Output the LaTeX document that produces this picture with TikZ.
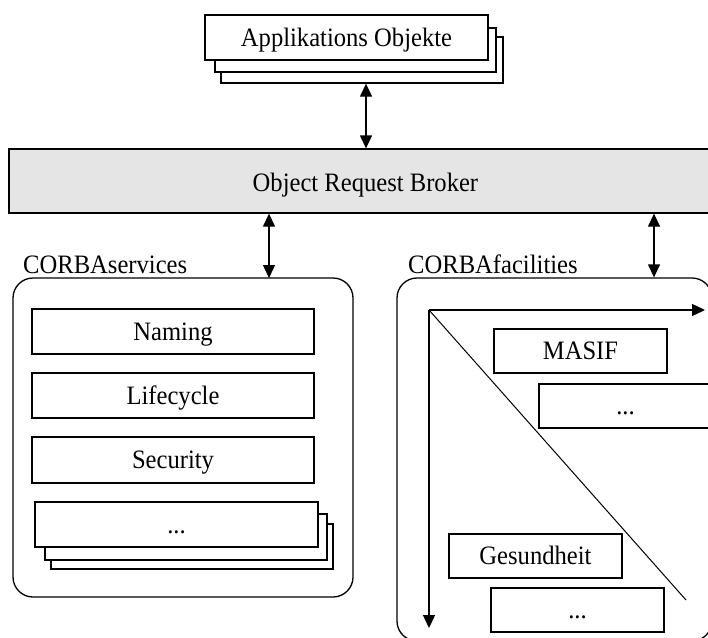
\documentclass[tikz,border=0pt]{standalone}
\usepackage{fontspec}
\setmainfont{Liberation Serif}
\usetikzlibrary{arrows.meta}
% labels are set slightly taller than wide
\newcommand\tx[1]{\scalebox{1}[1.08]{#1}}
\begin{document}
\begin{tikzpicture}[x=1pt,y=-1pt,
  box/.style={draw, fill=white, line width=1.3pt, inner sep=0pt,
    text height=20pt, text depth=3pt,
    font=\fontsize{24.6}{29}\selectfont},
  panel/.style={draw, line width=1.3pt, rounded corners=20pt},
  lbl/.style={inner sep=0pt, anchor=base west, font=\fontsize{24.6}{29}\selectfont},
  tip/.style={line width=1.3pt, -{Triangle[length=13pt,width=12pt]}},
  dbl/.style={line width=1.3pt, {Triangle[length=13pt,width=12pt]}-{Triangle[length=13pt,width=12pt]}},
]
\useasboundingbox (0,0) rectangle (708,637);

% application objects (stacked)
\node[box, minimum width=282pt, minimum height=46pt] (app3) at (362,60) {};
\node[box, minimum width=281pt, minimum height=44pt] (app2) at (355.5,50) {};
\node[box, minimum width=283pt, minimum height=45pt] (app) at (346.5,37.5) {\tx{Applikations Objekte}};

% object request broker
\node[box, fill=black!10, minimum width=703pt, minimum height=64pt] (orb) at (360.5,181) {};
\node[lbl] (orbtext) at (252.5,191) {\tx{Object Request Broker}};

% panels
\draw[panel] (13,278) rectangle (353,597);
\node[panel, minimum width=315pt, minimum height=363pt, inner sep=0pt] (fac) at (554.5,459.5) {};
\coordinate (srvtl) at (13,278);
\node[lbl] (srvlbl) at (23,273) {\tx{CORBAservices}};
\node[lbl] (faclbl) at (408,273) {\tx{CORBAfacilities}};

% services
\node[box, minimum width=282pt, minimum height=45pt] (naming) at (173,331.5) {\tx{Naming}};
\node[box, minimum width=282pt, minimum height=45pt] (life) at (173,395.5) {\tx{Lifecycle}};
\node[box, minimum width=282pt, minimum height=46pt] (sec) at (173,460) {\tx{Security}};
\node[box, minimum width=282pt, minimum height=45pt] (more3) at (192,546.5) {};
\node[box, minimum width=282pt, minimum height=46pt] (more2) at (186,537) {};
\node[box, minimum width=283pt, minimum height=45pt] (more) at (176.5,524.5) {\tx{...}};

% facilities
\coordinate (org) at (429,310);
\coordinate (hx) at (705,310);
\coordinate (vy) at (429,628);
\coordinate (dg) at (686,600);
\node[box, minimum width=173pt, minimum height=44pt] (masif) at (580.5,351) {\tx{MASIF}};
\node[box, minimum width=173pt, minimum height=44pt] (hmore) at (625.5,406) {\tx{...}};
\node[box, minimum width=173pt, minimum height=44pt] (ges) at (535.5,556) {\tx{Gesundheit}};
\node[box, minimum width=173pt, minimum height=44pt] (vmore) at (577.5,610) {\tx{...}};
\draw[tip] (org) -- (hx);
\draw[tip] (org) -- (vy);
\draw[line width=1pt] (org) -- (dg);

% connectors
\coordinate (c1) at (366,0);
\coordinate (c2) at (269,0);
\coordinate (c3) at (654,0);
\draw[dbl] (c1 |- app3.south) -- (c1 |- orb.north);
\draw[dbl] (c2 |- orb.south) -- (c2 |- srvtl);
\draw[dbl] (c3 |- orb.south) -- (c3 |- fac.north);
\end{tikzpicture}
\end{document}
